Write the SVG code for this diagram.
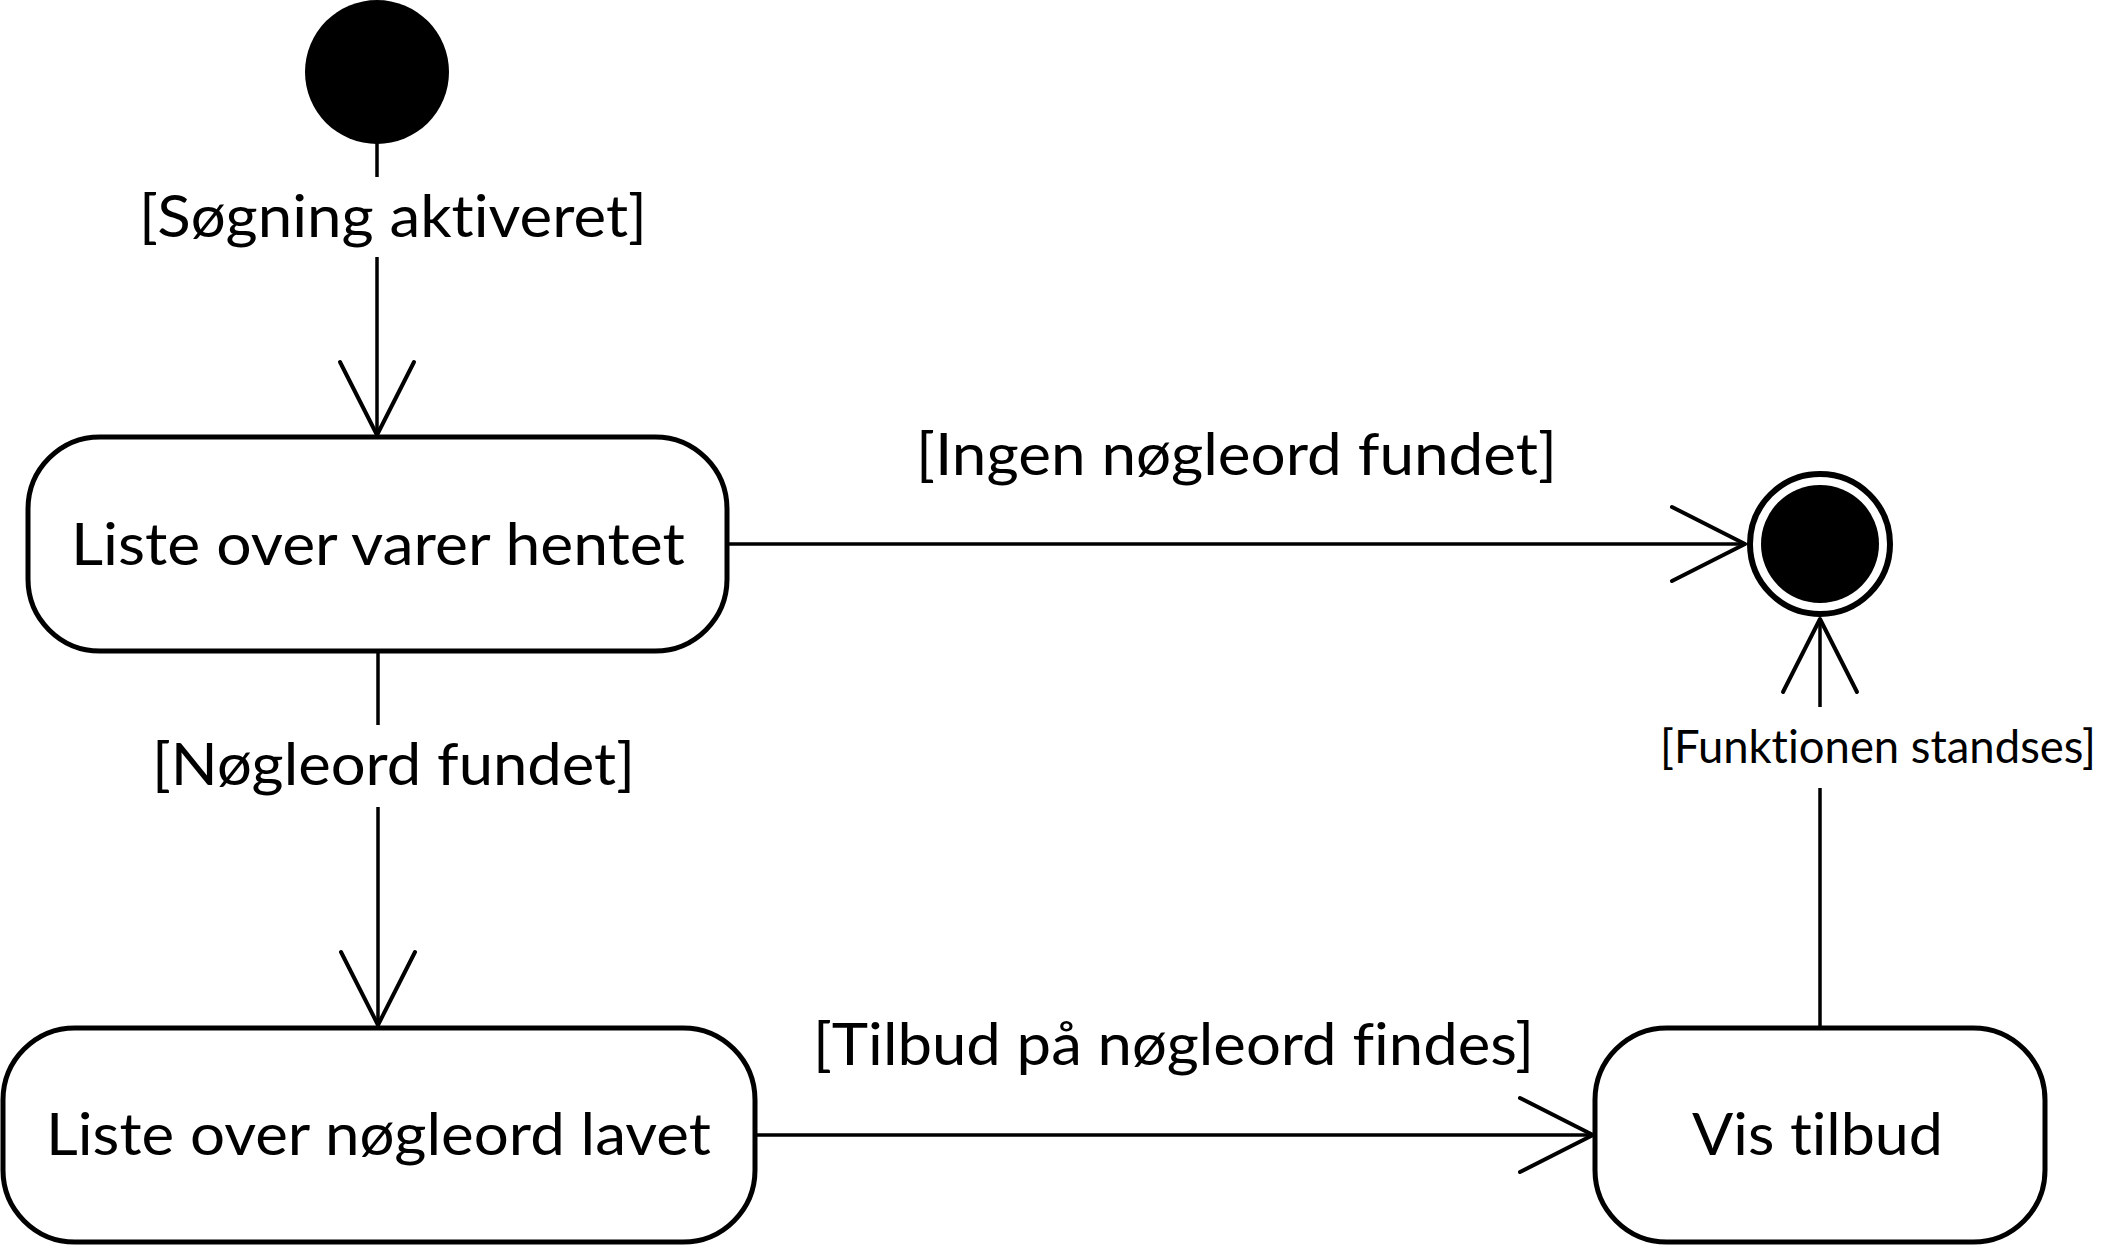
<svg xmlns="http://www.w3.org/2000/svg" width="2120" height="1245" viewBox="0 0 2120 1245">
<style>
.state{fill:#fff;stroke:#000;stroke-width:5}
.lbl{font-family:Lato,"Open Sans","Liberation Sans",sans-serif;font-size:58px;fill:#000;font-variant-ligatures:none;font-feature-settings:"liga" 0,"clig" 0}
.sm{font-size:47px}
.edge{fill:none;stroke:#000;stroke-width:3.5}
</style>
<defs>
<marker id="open" markerUnits="userSpaceOnUse" orient="auto" refX="0" refY="0" markerWidth="90" markerHeight="90" viewBox="-80 -45 90 90" style="overflow:visible">
<path d="M-73,-37 L0,0 L-73,37" fill="none" stroke="#000" stroke-width="4" stroke-linecap="round" stroke-linejoin="round"/>
</marker>
</defs>
<rect width="2120" height="1245" fill="#fff"/>
<g id="edges">
<line class="edge" x1="377" y1="143" x2="377" y2="177"/>
<line class="edge" x1="377" y1="257" x2="377" y2="435" marker-end="url(#open)"/>
<text class="lbl" x="139" y="237" textLength="508" lengthAdjust="spacingAndGlyphs">[Søgning aktiveret]</text>
<line class="edge" x1="378" y1="651" x2="378" y2="725"/>
<line class="edge" x1="378" y1="807" x2="378" y2="1025" marker-end="url(#open)"/>
<text class="lbl" x="152" y="785" textLength="483" lengthAdjust="spacingAndGlyphs">[Nøgleord fundet]</text>
<line class="edge" x1="727" y1="544" x2="1745" y2="544" marker-end="url(#open)"/>
<text class="lbl" x="916" y="475" textLength="641" lengthAdjust="spacingAndGlyphs">[Ingen nøgleord fundet]</text>
<line class="edge" x1="755" y1="1135" x2="1593" y2="1135" marker-end="url(#open)"/>
<text class="lbl" x="813" y="1065" textLength="721" lengthAdjust="spacingAndGlyphs">[Tilbud på nøgleord findes]</text>
<line class="edge" x1="1820" y1="1028" x2="1820" y2="788"/>
<line class="edge" x1="1820" y1="707" x2="1820" y2="619" marker-end="url(#open)"/>
<text class="lbl sm" x="1878" y="763" text-anchor="middle" textLength="436" lengthAdjust="spacingAndGlyphs">[Funktionen standses]</text>
</g>
<g id="initial">
<circle cx="377" cy="72" r="72" fill="#000"/>
</g>
<g id="final">
<circle cx="1820" cy="544" r="70" fill="#fff" stroke="#000" stroke-width="6"/>
<circle cx="1820" cy="544" r="59" fill="#000"/>
</g>
<g id="liste-varer">
<rect class="state" x="28" y="437" width="699" height="214" rx="72" ry="72"/>
<text class="lbl" x="71" y="565" textLength="614" lengthAdjust="spacingAndGlyphs">Liste over varer hentet</text>
</g>
<g id="liste-noegleord">
<rect class="state" x="3" y="1028" width="752" height="214" rx="72" ry="72"/>
<text class="lbl" x="46" y="1155" textLength="665" lengthAdjust="spacingAndGlyphs">Liste over nøgleord lavet</text>
</g>
<g id="vis-tilbud">
<rect class="state" x="1595" y="1028" width="450" height="214" rx="72" ry="72"/>
<text class="lbl" x="1692" y="1155" textLength="251" lengthAdjust="spacingAndGlyphs">Vis tilbud</text>
</g>
</svg>
